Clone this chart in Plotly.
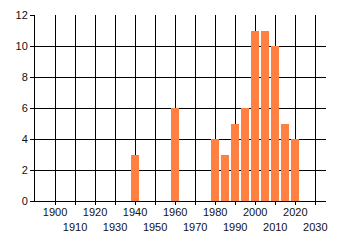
import plotly.graph_objects as go

years = [1940, 1960, 1980, 1985, 1990, 1995, 2000, 2005, 2010, 2015, 2020]
counts = [3, 6, 4, 3, 5, 6, 11, 11, 10, 5, 4]

tick_years = list(range(1900, 2031, 10))
tick_text = [str(y) if i % 2 == 0 else "<br>" + str(y) for i, y in enumerate(tick_years)]
y_ticks = [0, 2, 4, 6, 8, 10, 12]

fig = go.Figure(go.Bar(x=years, y=counts, width=4, marker=dict(color="#FF8040", line=dict(width=0))))

font = dict(family="Liberation Sans, Arial, sans-serif", size=11, color="#111111")
fig.update_layout(
    width=340, height=245,
    margin=dict(l=35, r=14, t=15, b=44, autoexpand=False),
    paper_bgcolor="white", plot_bgcolor="white",
    showlegend=False, font=font, bargap=0,
)
fig.update_xaxes(
    range=[1890, 2035.35], tickmode="array", tickvals=tick_years, ticktext=tick_text,
    showgrid=True, gridcolor="black", gridwidth=1,
    showline=True, linecolor="black", linewidth=1, automargin=False,
    ticks="outside", ticklen=3, tickcolor="black", zeroline=False, tickangle=0,
    ticklabelstandoff=-2,
)
fig.update_yaxes(
    range=[0, 12], tickmode="array", tickvals=y_ticks,
    showgrid=True, gridcolor="black", gridwidth=1,
    showline=True, linecolor="black", linewidth=1, automargin=False,
    ticks="outside", ticklen=4, tickcolor="black", zeroline=False,
)
fig.write_html("out.html")
